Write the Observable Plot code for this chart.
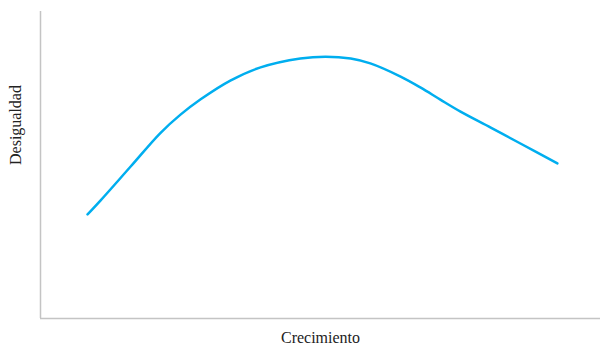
<!DOCTYPE html>
<html>
<head>
<meta charset="utf-8">
<script src="https://cdn.jsdelivr.net/npm/d3@7"></script>
<script src="https://cdn.jsdelivr.net/npm/@observablehq/plot@0.6"></script>
<style>
  html, body { margin: 0; padding: 0; background: #fff; }
</style>
</head>
<body>
<div id="chart"></div>
<script>
// Curve of inequality vs growth (arbitrary 0-100 units)
const growth = [8.4, 10.7, 16.1, 21.4, 25.0, 28.6, 33.9, 39.3, 46.4, 50.9, 55.4, 58.9, 64.3, 67.9, 71.4, 75.0, 80.4, 85.7, 92.3];
const inequality = [33.9, 38.4, 49.5, 60.4, 66.4, 71.4, 77.5, 81.8, 84.7, 85.3, 84.7, 83.1, 78.8, 75.2, 71.3, 67.4, 62.2, 57.0, 50.5];
const xLabel = "Crecimiento";
const yLabel = "Desigualdad";

const data = growth.map((g, i) => ({g, v: inequality[i]}));

const chart = Plot.plot({
  width: 600,
  height: 348,
  marginLeft: 40,
  marginRight: 0,
  marginTop: 11,
  marginBottom: 30,
  x: {domain: [0, 100], axis: null},
  y: {domain: [0, 100], axis: null},
  style: {fontFamily: "'Liberation Serif', 'DejaVu Serif', serif", background: "#fff"},
  marks: [
    Plot.ruleX([0], {stroke: "#c4c4c4", strokeWidth: 1.5}),
    Plot.ruleY([0], {stroke: "#c4c4c4", strokeWidth: 1.5}),
    Plot.line(data, {x: "g", y: "v", curve: "catmull-rom", stroke: "#00AEEF", strokeWidth: 2.5}),
    Plot.text([yLabel], {frameAnchor: "left", rotate: -90, dx: -25, fontSize: 16, fill: "#222"}),
    Plot.text([xLabel], {frameAnchor: "bottom", dy: 24, fontSize: 16, fill: "#222"})
  ]
});
document.getElementById("chart").append(chart);
</script>
</body>
</html>
